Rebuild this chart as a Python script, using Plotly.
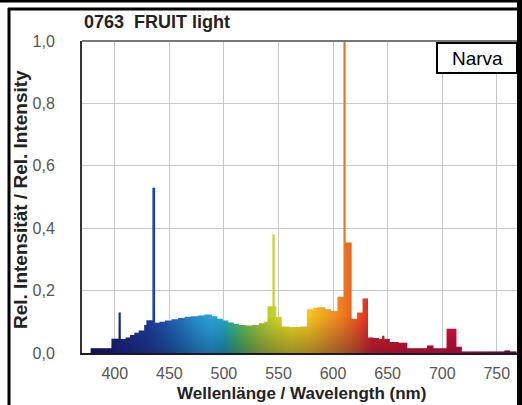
import plotly.graph_objects as go

# Spectrum (step edges in nm, relative intensity)
wavelength = [376, 378, 397, 403.5, 405.5, 410, 414, 418, 422, 427, 429, 434.5, 437,
              441, 446, 452, 458, 464, 470, 476, 482, 489, 494, 499, 504, 509, 514,
              520, 526, 532, 537, 540, 544.5, 546.5, 548, 553, 560, 570, 576, 582, 586,
              593, 598, 604, 609.5, 611.5, 617, 622, 627, 632, 637, 642, 645, 647, 652,
              660, 668, 686, 692, 704, 713, 718, 757, 762, 768]
intensity = [0.0, 0.015, 0.046, 0.13, 0.045, 0.05, 0.058, 0.065, 0.072, 0.09, 0.105, 0.53, 0.097,
             0.1, 0.104, 0.108, 0.112, 0.116, 0.118, 0.12, 0.123, 0.118, 0.11, 0.104, 0.098, 0.094, 0.09,
             0.088, 0.09, 0.095, 0.1, 0.15, 0.38, 0.15, 0.115, 0.085, 0.083, 0.085, 0.14, 0.145, 0.147,
             0.14, 0.135, 0.18, 1.0, 0.354, 0.11, 0.13, 0.175, 0.05, 0.048, 0.045, 0.055, 0.045, 0.035,
             0.033, 0.015, 0.024, 0.015, 0.078, 0.02, 0.005, 0.008, 0.005, 0.005]

x_ticks = [400, 450, 500, 550, 600, 650, 700, 750]
y_ticks = [0.0, 0.2, 0.4, 0.6, 0.8, 1.0]

title_text = "0763  FRUIT light"
brand_text = "Narva"
x_title = "Wellenlänge / Wavelength (nm)"
y_title = "Rel. Intensität / Rel. Intensity"

# spectral colour ramp (wavelength nm -> colour)
spec_nm = [376, 395, 410, 430, 445, 460, 475, 488, 500, 510, 522, 535, 548, 562, 578,
           592, 605, 615, 625, 635, 660, 700, 718, 740, 768]
spec_col = ['#15155a', '#1b1f78', '#1c2a8a', '#1d3c98', '#1e52a8', '#1f70bb', '#2591d0',
            '#2ba3dc', '#22a8bf', '#3bb57a', '#76bf45', '#aac832', '#cdd324', '#ead61c',
            '#f5c51b', '#f3a41e', '#ef851e', '#ea6a1f', '#e84821', '#e42024', '#e3132a',
            '#e2102f', '#dc1038', '#b0102c', '#7a0c20']

lo, hi = spec_nm[0], spec_nm[-1]
colorscale = [[(w - lo) / (hi - lo), c] for w, c in zip(spec_nm, spec_col)]

FONT = "Liberation Sans, Arial, Helvetica, sans-serif"

fig = go.Figure()
fig.add_trace(go.Scatter(
    x=wavelength, y=intensity, mode="lines", line=dict(width=0, shape="hv"),
    fill="tozeroy",
    fillgradient=dict(type="horizontal", colorscale=colorscale, start=lo, stop=hi),
    hoverinfo="skip", showlegend=False))
fig.add_trace(go.Scatter(
    x=wavelength, y=intensity, mode="lines", line=dict(width=0, shape="hv"),
    fill="tozeroy",
    fillgradient=dict(type="vertical",
                      colorscale=[[0, "rgba(10,10,50,0.35)"], [1, "rgba(10,10,50,0)"]],
                      start=0, stop=0.12),
    hoverinfo="skip", showlegend=False))

L, R, T, B = 82, 5, 41, 52
W, H = 522, 405
pw, ph = W - L - R, H - T - B


def px(x):
    return (x - L) / pw


def py(y):
    return (H - B - y) / ph


fig.update_layout(
    width=W, height=H,
    margin=dict(l=L, r=R, t=T, b=B, autoexpand=False),
    paper_bgcolor="white", plot_bgcolor="white",
    separators=", ",
    font=dict(family=FONT),
    showlegend=False,
    hovermode=False,
    xaxis=dict(range=[370, 768.5], tickvals=x_ticks, showgrid=True, gridcolor="#c8c8c8",
               gridwidth=1, showline=True, linecolor="#1a1a2a", linewidth=2, ticks="",
               zeroline=False, tickfont=dict(size=16, color="#555"), ticklabelstandoff=5),
    yaxis=dict(range=[0, 1.0], tickvals=y_ticks, tickformat=".1f", showgrid=True,
               gridcolor="#c8c8c8", gridwidth=1, showline=True, linecolor="#333",
               linewidth=2, ticks="", zeroline=False,
               tickfont=dict(size=16, color="#555"), ticklabelstandoff=22),
)

shapes = [
    # plot top border
    dict(type="line", xref="paper", yref="paper", x0=0, x1=px(517), y0=1, y1=1,
         line=dict(color="#777", width=2)),
    # outer frame lines
    dict(type="line", xref="paper", yref="paper", x0=px(0), x1=px(522), y0=py(1), y1=py(1),
         line=dict(color="black", width=3)),
    dict(type="line", xref="paper", yref="paper", x0=px(8), x1=px(522), y0=py(9), y1=py(9),
         line=dict(color="black", width=3)),
    dict(type="line", xref="paper", yref="paper", x0=px(9), x1=px(9), y0=py(8), y1=py(405),
         line=dict(color="black", width=3)),
    dict(type="line", xref="paper", yref="paper", x0=px(519.5), x1=px(519.5), y0=py(0), y1=py(405),
         line=dict(color="black", width=5)),
    # brand box
    dict(type="rect", xref="paper", yref="paper", x0=px(437), x1=px(517), y0=py(73), y1=py(43),
         line=dict(color="black", width=2), fillcolor="white"),
]
fig.update_layout(shapes=shapes)

fig.add_annotation(text=f"<b>{title_text}</b>", xref="paper", yref="paper", x=px(82), y=py(22),
                   xanchor="left", yanchor="middle", showarrow=False,
                   font=dict(size=18, color="#222", family=FONT))
fig.add_annotation(text=brand_text, xref="paper", yref="paper", x=px(477), y=py(58),
                   xanchor="center", yanchor="middle", showarrow=False,
                   font=dict(size=19, color="black", family=FONT))
fig.add_annotation(text=f"<b>{x_title}</b>", xref="paper", yref="paper", x=px(301), y=py(393),
                   xanchor="center", yanchor="middle", showarrow=False,
                   font=dict(size=17, color="#222", family=FONT))
fig.add_annotation(text=f"<b>{y_title}</b>", xref="paper", yref="paper", x=px(20), y=py(200),
                   xanchor="center", yanchor="middle", showarrow=False, textangle=-90,
                   font=dict(size=19, color="#222", family=FONT))

fig.write_html(
    "out.html",
    config={"displayModeBar": False, "staticPlot": True},
    post_script="document.body.style.margin='0';document.body.style.overflow='hidden';",
)
